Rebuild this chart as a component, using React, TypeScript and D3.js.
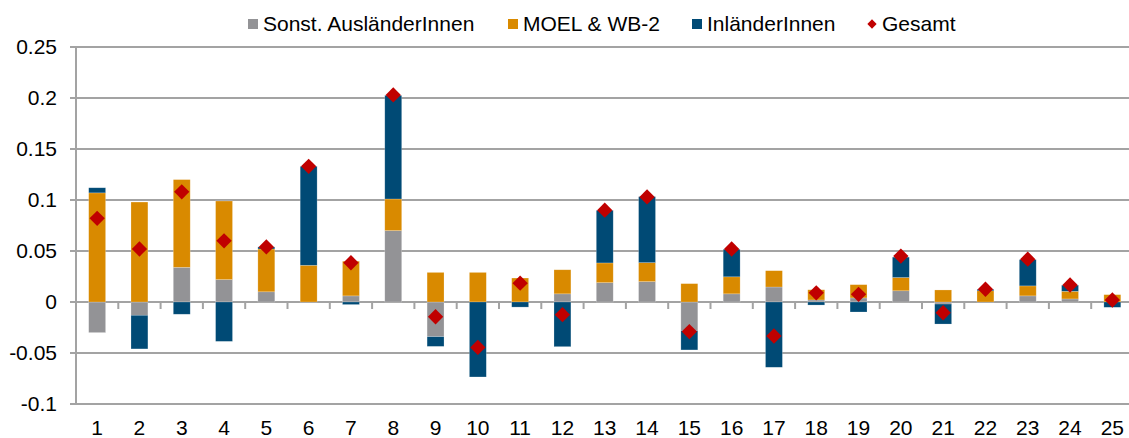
import React from "react";
import * as d3 from "d3";

const categories = Array.from({ length: 25 }, (_, i) => String(i + 1));
const sonst = [-0.030, -0.013, 0.034, 0.022, 0.010, 0, 0.006, 0.070, -0.034, 0, 0, 0.008, 0.019, 0.020, -0.028, 0.008, 0.0147, 0.002, 0.004, 0.011, -0.002, 0, 0.006, 0.003, 0];
const moel = [0.107, 0.098, 0.086, 0.077, 0.042, 0.036, 0.034, 0.031, 0.029, 0.029, 0.0235, 0.0236, 0.0193, 0.0186, 0.018, 0.0167, 0.016, 0.010, 0.013, 0.013, 0.0118, 0.011, 0.0098, 0.0075, 0.0072];
const inland = [0.005, -0.033, -0.012, -0.0386, 0.002, 0.097, -0.0025, 0.1016, -0.0095, -0.0735, -0.005, -0.0438, 0.0516, 0.0647, -0.019, 0.027, -0.064, -0.003, -0.0098, 0.020, -0.0196, 0.0015, 0.0258, 0.006, -0.0052];
const gesamt = [0.082, 0.052, 0.108, 0.060, 0.054, 0.133, 0.0385, 0.203, -0.0145, -0.0445, 0.0185, -0.0124, 0.090, 0.103, -0.029, 0.052, -0.0333, 0.009, 0.0075, 0.045, -0.0105, 0.0125, 0.042, 0.0167, 0.002];
const yTicks = [0.25, 0.2, 0.15, 0.1, 0.05, 0, -0.05, -0.1];
const yTickLabels = ["0.25", "0.2", "0.15", "0.1", "0.05", "0", "-0.05", "-0.1"];
const seriesNames = ["Sonst. AusländerInnen", "MOEL & WB-2", "InländerInnen"];
const seriesKeys = ["sonst", "moel", "inland"];
const colors = ["#939396", "#D98A00", "#004A75"];
const gesamtName = "Gesamt";
const red = "#C00000";

const W = 1129, H = 438;
const left = 76, bandW = 42.3;
const FONT = "'Liberation Sans', Arial, sans-serif";
const FS = 21;

export default function App() {
  const x = d3.scaleBand<string>().domain(categories).range([left, left + bandW * categories.length]).paddingInner(0.6).paddingOuter(0.3);
  const y = d3.scaleLinear().domain([-0.1, 0.25]).range([404, 47]);
  const rows = categories.map((c, i) => ({ cat: c, sonst: sonst[i], moel: moel[i], inland: inland[i] }));
  const stacked = d3.stack<any>().keys(seriesKeys).offset(d3.stackOffsetDiverging)(rows);
  const xOuter = d3.scaleBand<string>().domain(categories).range([left, left + bandW * categories.length]);
  const diamond = d3.symbol().type(d3.symbolDiamond2).size(150)();
  const diamondSmall = d3.symbol().type(d3.symbolDiamond2).size(55)();

  const legendItems = [
    { x: 248, label: seriesNames[0], color: colors[0] },
    { x: 508, label: seriesNames[1], color: colors[1] },
    { x: 692, label: seriesNames[2], color: colors[2] },
  ];

  return (
    <svg width={W} height={H} style={{ position: "absolute", left: 0, top: 0, background: "#fff" }} fontFamily={FONT}>
      {yTicks.map((t) => (
        <line key={t} x1={left - 6} x2={W} y1={y(t)} y2={y(t)} stroke="#A3A3A3" strokeWidth={2} />
      ))}
      <line x1={left} x2={left} y1={y(0.25)} y2={y(-0.1)} stroke="#A3A3A3" strokeWidth={2} />
      {yTicks.map((t, i) => (
        <text key={"l" + t} x={57} y={y(t)} dy="0.35em" textAnchor="end" fontSize={FS} fill="#000">{yTickLabels[i]}</text>
      ))}
      {categories.map((c) => (
        <line key={"t" + c} x1={(xOuter(c) as number) + bandW} x2={(xOuter(c) as number) + bandW} y1={y(0)} y2={y(0) + 7} stroke="#A3A3A3" strokeWidth={2} />
      ))}
      {stacked.map((s, si) => (
        <g key={s.key} fill={colors[si]}>
          {s.map((d, i) => {
            const y0 = y(d[0]), y1 = y(d[1]);
            const h = Math.abs(y0 - y1);
            if (h < 0.01) return null;
            return <rect key={i} x={x(categories[i])} width={x.bandwidth()} y={Math.min(y0, y1)} height={h} stroke="rgba(255,255,255,0.35)" strokeWidth={0.6} />;
          })}
        </g>
      ))}
      {categories.map((c, i) => (
        <path key={"g" + c} d={diamond as string} transform={`translate(${(x(c) as number) + x.bandwidth() / 2},${y(gesamt[i])})`} fill={red} />
      ))}
      {categories.map((c) => (
        <text key={"x" + c} x={(x(c) as number) + x.bandwidth() / 2} y={435} textAnchor="middle" fontSize={FS} fill="#000">{c}</text>
      ))}
      {legendItems.map((l) => (
        <g key={l.label}>
          <rect x={l.x} y={19} width={10} height={10} fill={l.color} />
          <text x={l.x + 15} y={31} fontSize={FS} fill="#000">{l.label}</text>
        </g>
      ))}
      <path d={diamondSmall as string} transform="translate(872,24)" fill={red} />
      <text x={882} y={31} fontSize={FS} fill="#000">{gesamtName}</text>
    </svg>
  );
}
